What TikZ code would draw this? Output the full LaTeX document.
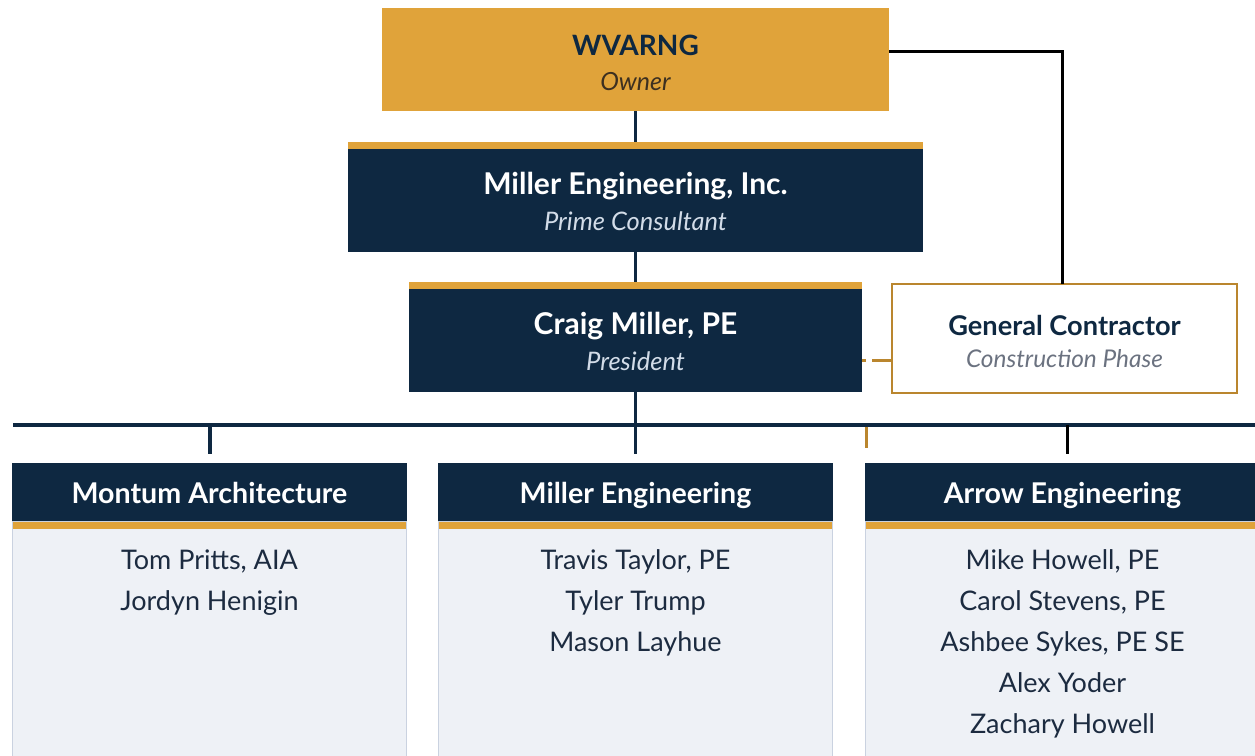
\documentclass[tikz,border=0pt]{standalone}
\usepackage{fontspec}
\setmainfont{Lato}
\usetikzlibrary{calc}
\definecolor{navy}{HTML}{0E2841}
\definecolor{gold}{HTML}{E0A33A}
\definecolor{gcline}{HTML}{BA862E}
\definecolor{lightbody}{HTML}{EEF1F6}
\definecolor{bodyline}{HTML}{CAD2E0}
\definecolor{subtext}{HTML}{D2DCE8}
\definecolor{ownertext}{HTML}{3D3020}
\definecolor{phasetext}{HTML}{6B7280}
\definecolor{ink}{HTML}{1C2B40}

\begin{document}
\begin{tikzpicture}[x=1pt,y=-1pt,
  every node/.style={inner sep=0pt,outer sep=0pt},
  goldtop/.style={path picture={\fill[gold] (path picture bounding box.north west) rectangle ([yshift=-7pt]path picture bounding box.north east);}},
  orgbox/.style={rectangle,fill=navy,minimum height=110pt,goldtop},
  teamhead/.style={rectangle,fill=navy,minimum width=395pt,minimum height=58pt},
  teambody/.style={rectangle,fill=lightbody,draw=bodyline,line width=1pt,minimum width=394pt,minimum height=238pt,goldtop},
  boxtitle/.style={font=\bfseries\fontsize{30}{32}\selectfont,anchor=base},
  boxsub/.style={font=\itshape\fontsize{25.5}{28}\selectfont,anchor=base},
  member/.style={font=\fontsize{27}{30}\selectfont,text=ink,anchor=base},
  link/.style={navy,line width=3pt}]

\useasboundingbox (0,0) rectangle (1255,755);

% top of the chart
\node[rectangle,fill=gold,minimum width=507pt,minimum height=103pt] (wvarng) at (635.5,59.5) {};
\node[boxtitle,text=navy,font=\bfseries\fontsize{28}{30}\selectfont] (wvarng-t) at (635.5,55) {WVARNG};
\node[boxsub,text=ownertext,font=\itshape\fontsize{25}{28}\selectfont] (wvarng-s) at (635.5,90) {Owner};

\node[orgbox,minimum width=575pt] (me) at (635.5,197) {};
\node[boxtitle,text=white] (me-t) at (635.5,194) {Miller Engineering, Inc.};
\node[boxsub,text=subtext] (me-s) at (635.5,230) {Prime Consultant};

\node[orgbox,minimum width=453pt] (craig) at (635.5,337) {};
\node[boxtitle,text=white] (craig-t) at (635.5,334) {Craig Miller, PE};
\node[boxsub,text=subtext] (craig-s) at (635.5,370) {President};

\node[rectangle,fill=white,draw=gcline,line width=2pt,minimum width=345pt,minimum height=109pt] (gc) at (1064.5,338.5) {};
\node[boxtitle,text=navy,font=\bfseries\fontsize{27.2}{30}\selectfont] (gc-t) at (1064.5,335) {General Contractor};
\node[boxsub,text=phasetext,font=\itshape\fontsize{24.4}{27}\selectfont] (gc-s) at (1064.5,367) {Construction Phase};

% firms
\foreach \x/\id/\team in {209.5/mon/Montum Architecture, 635.5/mil/Miller Engineering, 1062.5/arr/Arrow Engineering} {
  \node[teamhead] (\id) at (\x,492) {};
  \node[boxtitle,text=white,font=\bfseries\fontsize{28.6}{30}\selectfont] (\id-t) at (\x,503) {\team};
  \node[teambody,anchor=north] (\id-b) at (\x,521.5) {};
}

\foreach \n [count=\i] in {{Tom Pritts, AIA},{Jordyn Henigin}}
  \node[member] (mon-\i) at (209.5,{569.5+41*(\i-1)}) {\n};
\foreach \n [count=\i] in {{Travis Taylor, PE},{Tyler Trump},{Mason Layhue}}
  \node[member] (mil-\i) at (635.5,{569.5+41*(\i-1)}) {\n};
\foreach \n [count=\i] in {{Mike Howell, PE},{Carol Stevens, PE},{Ashbee Sykes, PE SE},{Alex Yoder},{Zachary Howell}}
  \node[member] (arr-\i) at (1062.5,{569.5+41*(\i-1)}) {\n};

% lines
\draw[link] (wvarng) -- (me);
\draw[link] (me) -- (craig);
\draw[black,line width=3pt] ($(wvarng.east)+(0,-8)$) -| ($(gc.north)+(-2,0)$);
\coordinate (crx) at ($(craig.east)+(0,23)$);
\draw[gcline,line width=3pt,dash pattern=on 20pt off 6pt] (crx -| gc.west) -- (crx);

\coordinate (busL) at (13,424.5);
\coordinate (busR) at (1255,424.5);
\draw[navy,line width=4pt] (busL) -- (busR);
\draw[link] (craig) -- ($(mil.north)+(0,-9.5)$);
\draw[navy,line width=4pt] (mon.north |- busL) -- ($(mon.north)+(0,-9.5)$);
\draw[gcline,line width=3pt] ($(arr.north west)+(1.5,-36.5)$) -- ++(0,21);
\draw[black,line width=3.5pt] ($(arr.north)+(5,-38)$) -- ($(arr.north)+(5,-9)$);

\end{tikzpicture}
\end{document}
